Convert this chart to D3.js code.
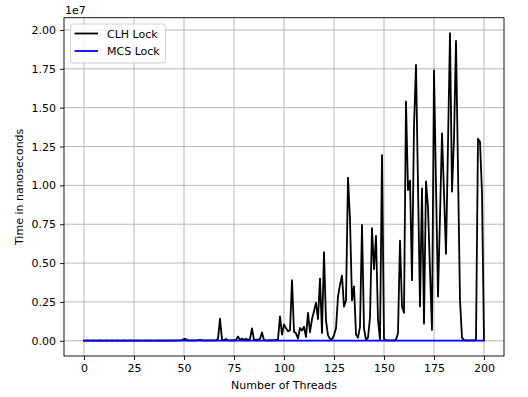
<!DOCTYPE html>
<html>
<head>
<meta charset="utf-8">
<script src="https://cdn.jsdelivr.net/npm/d3@7/dist/d3.min.js"></script>
<style>
  html, body { margin: 0; padding: 0; background: #fff; }
  svg { display: block; }
  text { font-family: "DejaVu Sans", sans-serif; fill: #000; }
</style>
</head>
<body>
<svg id="chart" width="528" height="397"></svg>
<script>
// ---- data (time values in units of 1e7 ns) ----
const threads = d3.range(0, 201); // thread counts 0..200
const clhTime = [
  0.001,0.001,0.002,0.001,0.001,0.002,0.001,0.001,0.002,0.001,
  0.001,0.002,0.001,0.001,0.002,0.001,0.001,0.002,0.001,0.001,
  0.002,0.001,0.001,0.002,0.001,0.001,0.002,0.001,0.002,0.001,
  0.001,0.002,0.001,0.002,0.001,0.001,0.002,0.001,0.002,0.001,
  0.002,0.001,0.002,0.001,0.002,0.001,0.002,0.002,0.003,0.004,
  0.012,0.010,0.003,0.002,0.003,0.002,0.003,0.004,0.006,0.002,
  0.003,0.002,0.003,0.002,0.003,0.003,0.004,0.012,0.142,0.006,
  0.004,0.012,0.004,0.003,0.004,0.003,0.006,0.028,0.006,0.014,
  0.005,0.013,0.005,0.012,0.080,0.004,0.008,0.006,0.012,0.054,
  0.004,0.003,0.003,0.004,0.003,0.004,0.005,0.008,0.157,0.040,
  0.105,0.080,0.062,0.068,0.390,0.058,0.048,0.014,0.082,0.066,
  0.090,0.024,0.180,0.055,0.140,0.190,0.245,0.140,0.400,0.050,
  0.570,0.130,0.035,0.012,0.010,0.035,0.080,0.285,0.360,0.420,
  0.220,0.260,1.050,0.780,0.260,0.350,0.040,0.020,0.090,0.745,
  0.080,0.005,0.020,0.150,0.725,0.460,0.675,0.135,0.008,1.195,
  0.012,0.004,0.003,0.003,0.002,0.003,0.006,0.050,0.645,0.220,
  0.180,1.540,0.970,1.030,0.390,1.380,1.775,1.000,0.220,0.980,
  0.110,1.025,0.860,0.450,0.070,1.740,1.000,0.285,0.800,1.335,
  0.950,0.560,1.270,1.980,0.960,1.300,1.930,1.100,0.260,0.020,
  0.004,0.003,0.003,0.002,0.003,0.003,0.006,1.300,1.280,0.950,
  0.004
];
const mcsTime = [
  0.001,0.001,0.001,0.001,0.001,0.001,0.001,0.001,0.001,0.001,
  0.001,0.001,0.001,0.001,0.001,0.001,0.001,0.001,0.001,0.001,
  0.001,0.001,0.001,0.001,0.001,0.001,0.001,0.001,0.001,0.001,
  0.001,0.001,0.001,0.001,0.001,0.001,0.001,0.001,0.001,0.001,
  0.001,0.001,0.001,0.001,0.001,0.001,0.001,0.001,0.001,0.001,
  0.001,0.001,0.001,0.001,0.001,0.001,0.001,0.001,0.001,0.001,
  0.001,0.001,0.001,0.001,0.001,0.001,0.001,0.001,0.001,0.001,
  0.001,0.001,0.001,0.001,0.001,0.001,0.001,0.001,0.001,0.001,
  0.001,0.001,0.001,0.001,0.001,0.001,0.001,0.001,0.001,0.001,
  0.001,0.001,0.001,0.001,0.001,0.001,0.001,0.001,0.001,0.001,
  0.001,0.001,0.001,0.001,0.001,0.001,0.001,0.001,0.001,0.001,
  0.001,0.001,0.001,0.001,0.001,0.001,0.001,0.001,0.001,0.001,
  0.001,0.001,0.001,0.001,0.001,0.001,0.001,0.001,0.001,0.001,
  0.001,0.001,0.001,0.001,0.001,0.001,0.001,0.001,0.001,0.001,
  0.001,0.001,0.001,0.001,0.001,0.001,0.001,0.001,0.001,0.001,
  0.001,0.001,0.001,0.001,0.001,0.001,0.001,0.001,0.001,0.001,
  0.001,0.001,0.001,0.001,0.001,0.001,0.001,0.001,0.001,0.001,
  0.001,0.001,0.001,0.001,0.001,0.001,0.001,0.001,0.001,0.001,
  0.001,0.001,0.001,0.001,0.001,0.001,0.001,0.001,0.001,0.001,
  0.001,0.001,0.001,0.001,0.001,0.001,0.001,0.001,0.001,0.001,
  0.001
];
const seriesNames = ["CLH Lock", "MCS Lock"];
const seriesColors = ["#000000", "#0000ff"];
const xTicks = [0, 25, 50, 75, 100, 125, 150, 175, 200];
const yTicks = [0, 0.25, 0.5, 0.75, 1.0, 1.25, 1.5, 1.75, 2.0];
const xLabel = "Number of Threads";
const yLabel = "Time in nanoseconds";
const offsetLabel = "1e7";

// ---- layout ----
const L = 64, R = 504, T = 17.7, B = 356;
const FS = 11;

const svg = d3.select("#chart");

const xMin = d3.min(threads), xMax = d3.max(threads);
const xPad = (xMax - xMin) * 0.05;
const x = d3.scaleLinear().domain([xMin - xPad, xMax + xPad]).range([L, R]);

const allY = clhTime.concat(mcsTime);
const yMin = d3.min(allY), yMax = d3.max(allY);
const yPad = (yMax - yMin) * 0.05;
const y = d3.scaleLinear().domain([yMin - yPad, yMax + yPad]).range([B, T]);

// grid
const grid = svg.append("g").attr("stroke", "#b0b0b0").attr("stroke-width", 0.9);
grid.selectAll("line.gx").data(xTicks).join("line")
  .attr("x1", d => x(d)).attr("x2", d => x(d)).attr("y1", T).attr("y2", B);
grid.selectAll("line.gy").data(yTicks).join("line")
  .attr("y1", d => y(d)).attr("y2", d => y(d)).attr("x1", L).attr("x2", R);

// axes
const xAxis = d3.axisBottom(x).tickValues(xTicks).tickSize(4).tickPadding(4)
  .tickFormat(d3.format("d"));
const gx = svg.append("g").attr("transform", `translate(0,${B})`).call(xAxis);
gx.select(".domain").remove();
gx.selectAll("line").attr("stroke", "#000").attr("stroke-width", 0.9);
gx.selectAll("text").attr("font-size", FS).attr("font-family", "DejaVu Sans").attr("fill", "#000");

const yAxis = d3.axisLeft(y).tickValues(yTicks).tickSize(4).tickPadding(4)
  .tickFormat(d3.format(".2f"));
const gy = svg.append("g").attr("transform", `translate(${L},0)`).call(yAxis);
gy.select(".domain").remove();
gy.selectAll("line").attr("stroke", "#000").attr("stroke-width", 0.9);
gy.selectAll("text").attr("font-size", FS).attr("font-family", "DejaVu Sans").attr("fill", "#000");

// lines
const series = [clhTime, mcsTime];
const line = d3.line().x((d, i) => x(threads[i])).y(d => y(d));
svg.append("g").selectAll("path").data(series).join("path")
  .attr("d", d => line(d))
  .attr("fill", "none")
  .attr("stroke", (d, i) => seriesColors[i])
  .attr("stroke-width", 1.8)
  .attr("stroke-linejoin", "round")
  .attr("stroke-linecap", "square");

// spines
svg.append("rect").attr("x", L).attr("y", T).attr("width", R - L).attr("height", B - T)
  .attr("fill", "none").attr("stroke", "#000").attr("stroke-width", 0.9);

// labels
svg.append("text").attr("x", (L + R) / 2).attr("y", 389).attr("text-anchor", "middle")
  .attr("font-size", FS).text(xLabel);
svg.append("text").attr("transform", `translate(23,${(T + B) / 2}) rotate(-90)`)
  .attr("text-anchor", "middle").attr("font-size", FS).text(yLabel);
svg.append("text").attr("x", L + 1).attr("y", 14).attr("font-size", FS).text(offsetLabel);

// legend
const lg = svg.append("g");
lg.append("rect").attr("x", 70.5).attr("y", 24).attr("width", 95).attr("height", 39)
  .attr("rx", 3).attr("fill", "#fff").attr("fill-opacity", 0.8)
  .attr("stroke", "#cccccc").attr("stroke-width", 0.9);
seriesNames.forEach((name, i) => {
  const yy = 33.5 + i * 17.5;
  lg.append("line").attr("x1", 74.5).attr("x2", 98).attr("y1", yy).attr("y2", yy)
    .attr("stroke", seriesColors[i]).attr("stroke-width", 1.8);
  lg.append("text").attr("x", 107).attr("y", yy + 4).attr("font-size", FS).text(name);
});
</script>
</body>
</html>
